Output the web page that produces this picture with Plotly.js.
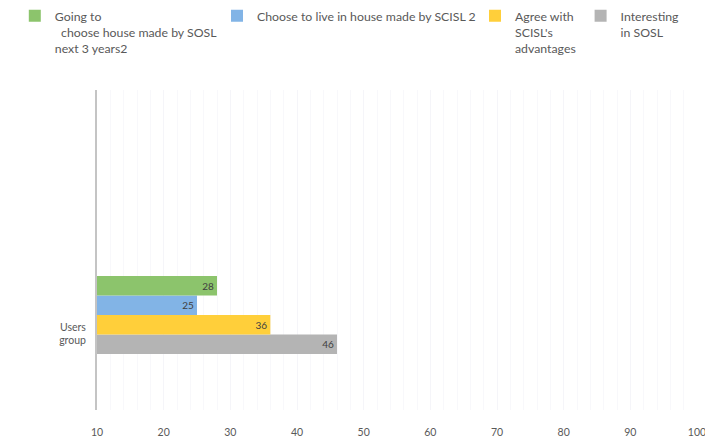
<!DOCTYPE html>
<html><head><meta charset="utf-8">
<script src="https://cdn.plot.ly/plotly-3.0.1.min.js"></script>
<style>html,body{margin:0;padding:0;background:#fff}#chart{width:705px;height:443px}</style>
</head><body><div id="chart"></div>
<script>
const categories = ["Users<br>group"];
const seriesNames = [
  "Going to<br>  choose house made by SOSL<br>next 3 years2",
  "Choose to live in house made by SCISL 2",
  "Agree with<br>SCISL's<br>advantages",
  "Interesting<br>in SOSL"
];
const goingTo = [28];
const chooseLive = [25];
const agree = [36];
const interesting = [46];
const xTicks = [10,20,30,40,50,60,70,80,90,100];

const colors = ["#8cc46c", "#82b4e6", "#ffcf3a", "#b4b4b4"];
const values = [goingTo, chooseLive, agree, interesting];
const legendX = [-0.137, 0.20, 0.63, 0.806];

const traces = values.map((v, i) => ({
  type: "bar", orientation: "h",
  y: categories, x: v,
  name: seriesNames[i],
  legend: i === 0 ? "legend" : "legend" + (i + 1),
  marker: {color: colors[i], line: {width: 0}},
  text: v.map(String), textposition: "inside", insidetextanchor: "end",
  textfont: {color: "#404040", size: 10}, cliponaxis: true
}));
// plotly draws first trace at bottom: reverse order so green is on top
traces.reverse();

const legBase = {orientation: "h", y: 1.277, yanchor: "top", xanchor: "left",
  font: {size: 12.3, color: "#595959"}, valign: "top", bgcolor: "rgba(0,0,0,0)",
  itemwidth: 30, tracegroupgap: 0};

const layout = {
  width: 705, height: 443,
  margin: {l: 97, r: 8, t: 90, b: 33, autoexpand: false},
  paper_bgcolor: "#ffffff", plot_bgcolor: "#ffffff",
  font: {family: "Lato, 'Liberation Sans', sans-serif", color: "#595959", size: 10},
  barmode: "group", bargap: 0.756, bargroupgap: 0,
  xaxis: {range: [10, 100], tickvals: xTicks, ticktext: xTicks.map(String),
          showgrid: true, gridcolor: "#f5f5f9", zeroline: false, showline: false,
          ticks: "", ticklabelstandoff: 14, ticklabeloverflow: "allow",
          tickfont: {size: 10.5, color: "#595959"},
          minor: {showgrid: true, gridcolor: "#f8f8fb", dtick: 2}},
  yaxis: {range: [-0.297, 0.703], showline: true, linecolor: "#c4c4c4", linewidth: 2,
          showgrid: false, zeroline: false, ticks: "", tickfont: {size: 10.5, color: "#595959"},
          ticklabelstandoff: 7, ticklabelshift: 19},
  legend: Object.assign({}, legBase, {x: legendX[0]}),
  legend2: Object.assign({}, legBase, {x: legendX[1]}),
  legend3: Object.assign({}, legBase, {x: legendX[2]}),
  legend4: Object.assign({}, legBase, {x: legendX[3]}),
  showlegend: true
};
Plotly.newPlot("chart", traces, layout, {displayModeBar: false, responsive: false});
</script></body></html>
